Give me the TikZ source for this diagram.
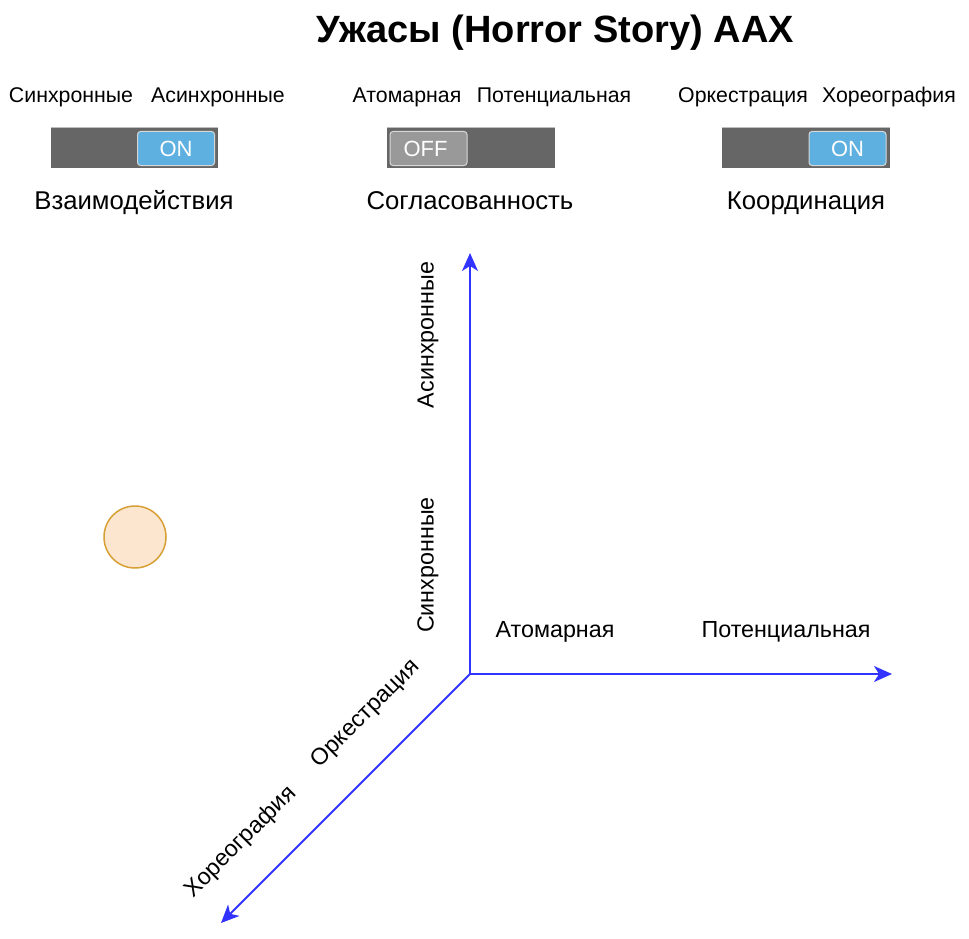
\documentclass[tikz,border=0pt]{standalone}
\usepackage{fontspec}
\setmainfont{Liberation Sans}
\usetikzlibrary{arrows.meta}
\definecolor{axisblue}{RGB}{51,51,255}
\definecolor{bargray}{RGB}{102,102,102}
\definecolor{barline}{RGB}{190,190,190}
\definecolor{onblue}{RGB}{93,176,224}
\definecolor{offgray}{RGB}{153,153,153}
\definecolor{knobline}{RGB}{215,215,215}
\definecolor{dotfill}{RGB}{252,230,208}
\definecolor{dotline}{RGB}{214,160,52}
\tikzset{
  lbl/.style={font=\fontsize{21.3}{24}\selectfont, inner sep=0pt},
  axislbl/.style={font=\fontsize{23.3}{26}\selectfont, inner sep=0pt},
  switchcaption/.style={font=\fontsize{25.7}{28}\selectfont, inner sep=0pt},
  bar/.style={fill=bargray, draw=none},
  knobon/.style={fill=onblue, draw=knobline, line width=1pt, rounded corners=3pt,
    text=white, font=\fontsize{22}{24}\selectfont, inner sep=0pt},
  knoboff/.style={fill=offgray, draw=knobline, line width=1pt, rounded corners=3pt,
    text=white, font=\fontsize{22}{24}\selectfont, inner sep=0pt},
  axis/.style={draw=axisblue, line width=1.8pt,
    -{Stealth[length=18pt,width=16pt,inset=5pt]}},
}
\begin{document}
\begin{tikzpicture}[x=1pt,y=-1pt]
\useasboundingbox (0,0) rectangle (969,939);

% title
\node[font=\bfseries\fontsize{38}{42}\selectfont, inner sep=0pt] (title) at (555,33) {Ужасы (Horror Story) AAX};

% switch 1: interactions
\node[lbl] (s1a) at (71,97) {Синхронные};
\node[lbl] (s1b) at (218,97) {Асинхронные};
\fill[bar] (51,127) rectangle (218,168);
\draw[barline, line width=1pt] (51,127.5) -- (218,127.5);
\node[knobon, minimum width=77pt, minimum height=34pt] (k1) at (176,148.5) {ON};
\node[switchcaption] (c1) at (134,203) {Взаимодействия};

% switch 2: consistency
\node[lbl] (s2a) at (407,97) {Атомарная};
\node[lbl] (s2b) at (554,97) {Потенциальная};
\fill[bar] (387,127) rectangle (555,168);
\draw[barline, line width=1pt] (387,127.5) -- (555,127.5);
\node[knoboff, minimum width=77pt, minimum height=34pt] (k2) at (428.5,148.5) {\hspace*{-6pt}OFF};
\node[switchcaption] (c2) at (470,201) {Согласованность};

% switch 3: coordination
\node[lbl] (s3a) at (743,97) {Оркестрация};
\node[lbl] (s3b) at (889,97) {Хореография};
\fill[bar] (722,127) rectangle (890,168);
\draw[barline, line width=1pt] (722,127.5) -- (890,127.5);
\node[knobon, minimum width=77pt, minimum height=34pt] (k3) at (847.5,148.5) {ON};
\node[switchcaption] (c3) at (806,203) {Координация};

% axes
\coordinate (o) at (470,674);
\coordinate (up) at (470,253);
\coordinate (rt) at (892,674);
\coordinate (dl) at (221,923);
\draw[axis] (o) -- (up);
\draw[axis] (o) -- (rt);
\draw[axis] (o) -- (dl);

\node[axislbl, rotate=90] (ya) at (428,335) {Асинхронные};
\node[axislbl, rotate=90] (ys) at (428,565) {Синхронные};
\node[axislbl] (xa) at (555,632) {Атомарная};
\node[axislbl] (xp) at (786,632) {Потенциальная};
\node[axislbl, rotate=45] (zo) at (366,714) {Оркестрация};
\node[axislbl, rotate=45] (zh) at (241,842) {Хореография};

% marker
\node[circle, fill=dotfill, draw=dotline, line width=1.5pt, minimum size=62pt, inner sep=0pt] (dot) at (135,537) {};
\end{tikzpicture}
\end{document}
